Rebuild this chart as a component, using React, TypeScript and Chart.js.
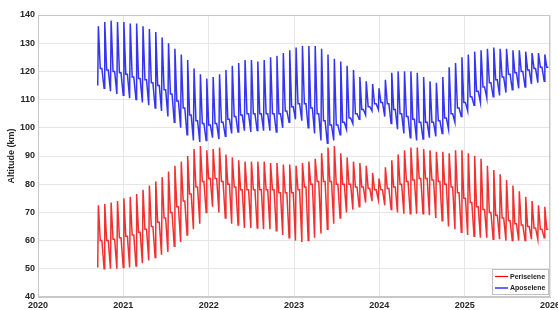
import React, { useEffect, useRef } from 'react';
import { Chart, registerables } from 'chart.js';

Chart.register(...registerables);

// Time axis: first orbit-cycle start (decimal year) and cycle length (~27.3 days)
const START_YEAR = 2020.70;
const CYCLE_YEARS = 27.3 / 365.25;

const X_TICKS = [2020, 2021, 2022, 2023, 2024, 2025, 2026];
const Y_TICKS = [40, 50, 60, 70, 80, 90, 100, 110, 120, 130, 140];

// Aposelene per cycle: peak, plateau, trough (km)
const apoHi = [
  136, 137.5, 138, 137.5, 137.5, 137, 137, 136, 135, 134,
  132, 130, 128, 126, 124, 121, 119, 117.5, 118, 119,
  120.5, 122, 123, 124, 124, 123.5, 124, 125, 125.5, 126.5,
  127.5, 128.5, 129, 129, 129, 128, 126, 124.5, 123.5, 122,
  120.5, 118, 116.5, 115.5, 114, 117, 119.5, 120, 120, 120,
  119.5, 118, 116.5, 116, 118, 121.5, 123, 125, 126, 127,
  127.5, 128, 128.5, 128, 128, 127.5, 127.5, 127, 126.5, 126.5,
  126,
];
const apoMid = [
  121, 120.5, 120, 119.5, 119, 118, 117.5, 117, 116, 115,
  113.5, 112, 109.5, 107, 104.5, 102.5, 101.5, 101, 101.5, 102,
  103, 104, 104.5, 105, 105, 105, 105, 105, 105, 106,
  107.5, 108.5, 108.5, 107, 105, 102.5, 101, 101, 102, 103.5,
  105, 106.5, 107.5, 108.5, 109, 108.5, 106.5, 105, 104, 103,
  102, 102, 102, 102.5, 103.5, 105, 107, 109, 111, 113,
  114.5, 116, 117, 118, 119, 119.5, 120, 120.5, 121, 121.5,
  121.5,
];
const apoLo = [
  115, 114, 113, 112, 111.5, 110.5, 110, 109, 108, 107,
  106, 104, 102, 100, 97.5, 95.5, 95, 95.5, 96.5, 96,
  97, 98, 98.5, 99, 98.5, 99, 99, 99, 98.5, 100,
  102, 103, 102.5, 100, 98, 95.5, 94.5, 95.5, 97.5, 99.5,
  101.5, 103, 104.5, 106, 106.5, 104, 101.5, 99.5, 98, 96.5,
  95.5, 96, 96.5, 97, 98, 99.5, 102, 104, 106, 108,
  109, 110.5, 111, 111.5, 112.5, 113.5, 114, 114.5, 115.5, 116,
  116.5,
];

// Periselene per cycle: peak, plateau, trough (km)
const periHi = [
  72.5, 73, 73.5, 74, 75, 75.5, 76.5, 78, 79.5, 81,
  82.5, 84.5, 86.5, 88, 90, 92.5, 93.5, 92, 92.5, 93,
  90.5, 89.5, 88.5, 88, 88, 88, 88, 87.5, 87.5, 87,
  87, 86.5, 87.5, 88, 89, 91, 93, 93.5, 91, 89.5,
  88, 87.5, 86.5, 84, 82, 86, 88.5, 90.5, 92, 93,
  93, 92.5, 92, 91.5, 91.5, 91, 92, 92, 91, 90,
  89, 86.5, 85, 83.5, 81.5, 79.5, 77.5, 75.5, 74, 72.5,
  72,
];
const periMid = [
  60, 60, 60.5, 61, 61.5, 62, 63, 64, 65, 66.5,
  68, 70, 72, 74, 76.5, 79, 81, 82, 82, 81,
  80, 79, 78, 78, 78, 78, 78, 78, 77, 77,
  77, 78, 79, 80, 81, 81, 81, 80, 80, 80,
  79, 79, 78.5, 78, 78, 78.5, 79, 80, 81, 81.5,
  82, 82, 81.5, 81, 80, 79, 77, 75, 73.5, 72,
  71, 70, 69, 68, 67, 66, 65.5, 65, 64.5, 64,
  64,
];
const periLo = [
  50.5, 50, 50, 50, 50.5, 50.5, 51, 52, 53, 54,
  55, 56, 58, 59.5, 62, 64, 66, 70, 72, 70,
  68, 66, 65.5, 64.5, 64.5, 64.5, 64, 64, 63.5, 62,
  61, 60, 59.5, 60, 61, 62.5, 64, 66, 68, 70,
  71, 72, 73.5, 74, 74.5, 72.5, 71, 70, 69.5, 69.5,
  69.5, 69.5, 69, 68, 67, 65, 64, 63, 62, 61.5,
  61, 61, 60.5, 60.5, 60, 60, 60, 60, 60.5, 60.5,
  61,
];

function buildSeries(hi: number[], mid: number[], lo: number[]) {
  const pts: { x: number; y: number }[] = [];
  for (let i = 0; i < hi.length; i++) {
    const t = START_YEAR + i * CYCLE_YEARS;
    pts.push({ x: t, y: lo[i] });
    pts.push({ x: t + 0.1 * CYCLE_YEARS, y: hi[i] });
    pts.push({ x: t + 0.4 * CYCLE_YEARS, y: mid[i] });
    pts.push({ x: t + 0.65 * CYCLE_YEARS, y: mid[i] });
  }
  return pts;
}

const FONT = "'Liberation Sans', Arial, sans-serif";
const RED = 'rgba(238, 12, 12, 0.85)';
const BLUE = 'rgba(16, 16, 238, 0.85)';

const framePlugin = {
  id: 'frameAndLegend',
  afterDraw(chart: any) {
    const ctx = chart.ctx;
    const { left, right, top, bottom } = chart.chartArea;
    ctx.save();
    ctx.strokeStyle = '#c8c8c8';
    ctx.lineWidth = 1;
    ctx.strokeRect(left + 0.5, top + 0.5, right - left - 1, bottom - top - 1);

    // legend box inside plot, bottom-right
    const w = 57;
    const h = 26;
    const x0 = right - w - 1;
    const y0 = bottom - h - 2;
    ctx.fillStyle = '#ffffff';
    ctx.fillRect(x0, y0, w, h);
    ctx.strokeStyle = '#c0c0c0';
    ctx.strokeRect(x0 + 0.5, y0 + 0.5, w - 1, h - 1);
    const items = [
      { label: 'Periselene', color: '#ff0000' },
      { label: 'Aposelene', color: '#0000ff' },
    ];
    ctx.font = `bold 7px ${FONT}`;
    ctx.textBaseline = 'middle';
    ctx.textAlign = 'left';
    items.forEach((it, k) => {
      const yy = y0 + 7.5 + k * 11.5;
      ctx.strokeStyle = it.color;
      ctx.lineWidth = 1.2;
      ctx.beginPath();
      ctx.moveTo(x0 + 3, yy);
      ctx.lineTo(x0 + 16, yy);
      ctx.stroke();
      ctx.fillStyle = '#222222';
      ctx.fillText(it.label, x0 + 18, yy + 0.5);
    });
    ctx.restore();
  },
};

export default function App() {
  const ref = useRef<HTMLCanvasElement | null>(null);

  useEffect(() => {
    document.body.style.margin = '0';
    const canvas = ref.current;
    if (!canvas) return;
    const chart = new Chart(canvas, {
      type: 'line',
      data: {
        datasets: [
          {
            label: 'Periselene',
            data: buildSeries(periHi, periMid, periLo),
            borderColor: RED,
            borderWidth: 1.5,
            pointRadius: 0,
            tension: 0,
            fill: false,
          },
          {
            label: 'Aposelene',
            data: buildSeries(apoHi, apoMid, apoLo),
            borderColor: BLUE,
            borderWidth: 1.5,
            pointRadius: 0,
            tension: 0,
            fill: false,
          },
        ],
      },
      options: {
        responsive: false,
        animation: false,
        devicePixelRatio: 1,
        layout: { padding: { top: 15, right: 16, left: 0, bottom: 0 } },
        plugins: {
          legend: { display: false },
          tooltip: { enabled: false },
        },
        scales: {
          x: {
            type: 'linear',
            min: X_TICKS[0],
            max: X_TICKS[X_TICKS.length - 1],
            afterBuildTicks: (s: any) => {
              s.ticks = X_TICKS.map((v) => ({ value: v }));
            },
            afterFit: (s: any) => {
              s.height = 13;
            },
            ticks: {
              callback: (v: any) => String(v),
              color: '#262626',
              font: { family: FONT, size: 9, weight: 'bold' },
              padding: 3,
              maxRotation: 0,
            },
            grid: { color: '#e6e6e6', drawTicks: false },
            border: { display: true, color: '#c8c8c8' },
          },
          y: {
            type: 'linear',
            min: Y_TICKS[0],
            max: Y_TICKS[Y_TICKS.length - 1],
            afterBuildTicks: (s: any) => {
              s.ticks = Y_TICKS.map((v) => ({ value: v }));
            },
            afterFit: (s: any) => {
              s.width = 38;
            },
            ticks: {
              callback: (v: any) => String(v),
              color: '#262626',
              font: { family: FONT, size: 9, weight: 'bold' },
              padding: 3,
            },
            grid: { color: '#e6e6e6', drawTicks: false },
            border: { display: true, color: '#c8c8c8' },
            title: {
              display: true,
              text: 'Altitude (km)',
              color: '#262626',
              font: { family: FONT, size: 9, weight: 'bold' },
              padding: { top: 6, bottom: 0 },
            },
          },
        },
      },
      plugins: [framePlugin],
    } as any);
    return () => chart.destroy();
  }, []);

  return (
    <div style={{ width: 558, height: 310, overflow: 'hidden', position: 'relative' }}>
      <canvas ref={ref} width={566} height={310} style={{ display: 'block', width: 566, height: 310 }} />
    </div>
  );
}
